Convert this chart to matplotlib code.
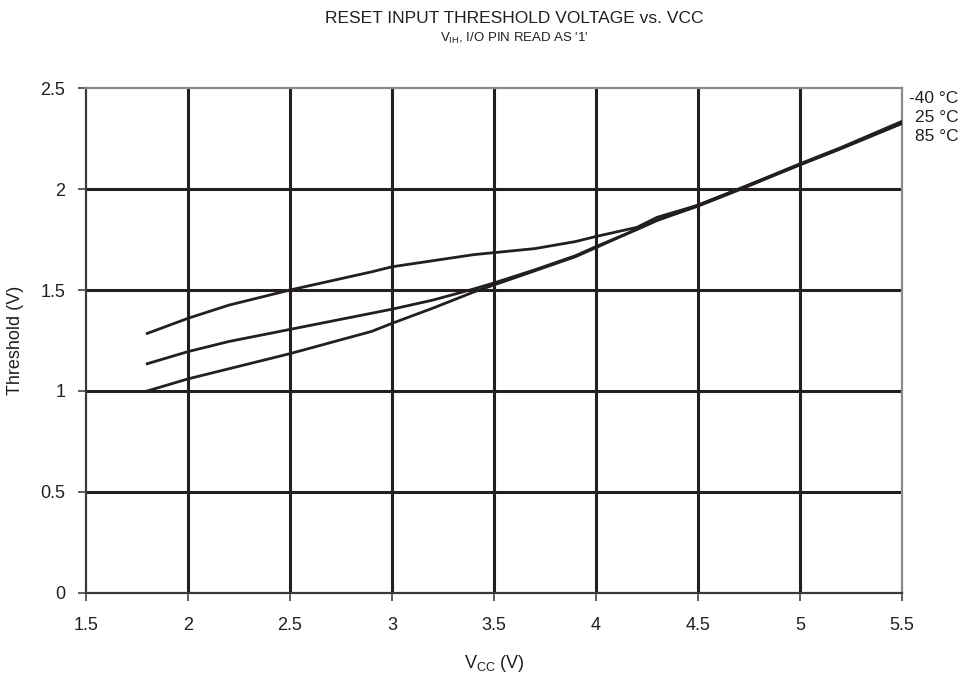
import matplotlib
matplotlib.use('Agg')
import matplotlib.pyplot as plt

plt.rcParams['font.family'] = ['Liberation Sans', 'DejaVu Sans']

# (VCC in V, threshold in V)
vcc = [1.8, 2.0, 2.2, 2.4, 2.5, 2.7, 2.9, 3.0, 3.2, 3.4, 3.5, 3.7, 3.9, 4.0, 4.2, 4.3, 4.5, 4.7, 5.0, 5.2, 5.5]
th_m40 = [1.285, 1.36, 1.425, 1.475, 1.50, 1.545, 1.59, 1.615, 1.645, 1.675, 1.685, 1.705, 1.74, 1.765, 1.81, 1.86, 1.92, 2.0, 2.125, 2.205, 2.335]
th_25 = [1.135, 1.195, 1.245, 1.285, 1.305, 1.345, 1.385, 1.405, 1.45, 1.505, 1.535, 1.6, 1.67, 1.715, 1.80, 1.845, 1.92, 2.0, 2.12, 2.20, 2.325]
th_85 = [1.0, 1.06, 1.11, 1.16, 1.185, 1.24, 1.295, 1.335, 1.41, 1.49, 1.525, 1.595, 1.665, 1.71, 1.80, 1.845, 1.915, 1.995, 2.12, 2.20, 2.325]
labels = ['-40 °C', '25 °C', '85 °C']
xticks = [1.5, 2, 2.5, 3, 3.5, 4, 4.5, 5, 5.5]
yticks = [0, 0.5, 1, 1.5, 2, 2.5]

fig = plt.figure(figsize=(9.71, 6.73), dpi=100)
ax = fig.add_axes([0.0886, 0.1189, 0.8403, 0.7503])

for t in [th_m40, th_25, th_85]:
    ax.plot(vcc, t, color='#231f20', lw=2.0, zorder=3)

# inner grid lines only, the frame stays grey
for x in xticks[1:-1]:
    ax.axvline(x, color='#231f20', lw=2.2, zorder=1)
for y in yticks[1:-1]:
    ax.axhline(y, color='#231f20', lw=2.2, zorder=1)

ax.set_xlim(1.5, 5.5)
ax.set_ylim(0, 2.5)
ax.set_xticks(xticks)
ax.set_xticklabels(['1.5', '2', '2.5', '3', '3.5', '4', '4.5', '5', '5.5'])
ax.set_yticks(yticks)
ax.set_yticklabels(['0', '0.5', '1', '1.5', '2', '2.5'])
ax.spines['left'].set_color('#3a3a3a')
ax.spines['bottom'].set_color('#3a3a3a')
ax.spines['top'].set_color('#8a8a8a')
ax.spines['right'].set_color('#8a8a8a')
for s in ax.spines.values():
    s.set_linewidth(1.6)
ax.tick_params(direction='out', length=6, width=1.2, color='#444444',
               labelsize=13, labelcolor='#231f20')
ax.tick_params(axis='x', pad=11)
ax.tick_params(axis='y', pad=9)

ax.set_xlabel(r'V$_{\mathregular{CC}}$ (V)', fontsize=13, color='#231f20', labelpad=14)
ax.set_ylabel('Threshold (V)', fontsize=13, color='#231f20', labelpad=12)

fig.text(0.53, 0.972, 'RESET INPUT THRESHOLD VOLTAGE vs. VCC', ha='center', va='center',
         fontsize=12.5, color='#231f20')
fig.text(0.53, 0.943, r"V$_{\mathregular{IH}}$, I/O PIN READ AS '1'", ha='center', va='center',
         fontsize=9.5, color='#231f20')

for i, lab in enumerate(labels):
    fig.text(0.987, 0.854 - i * 0.0285, lab, ha='right', va='center', fontsize=12.5, color='#231f20')

fig.savefig('out.png', dpi=100)
